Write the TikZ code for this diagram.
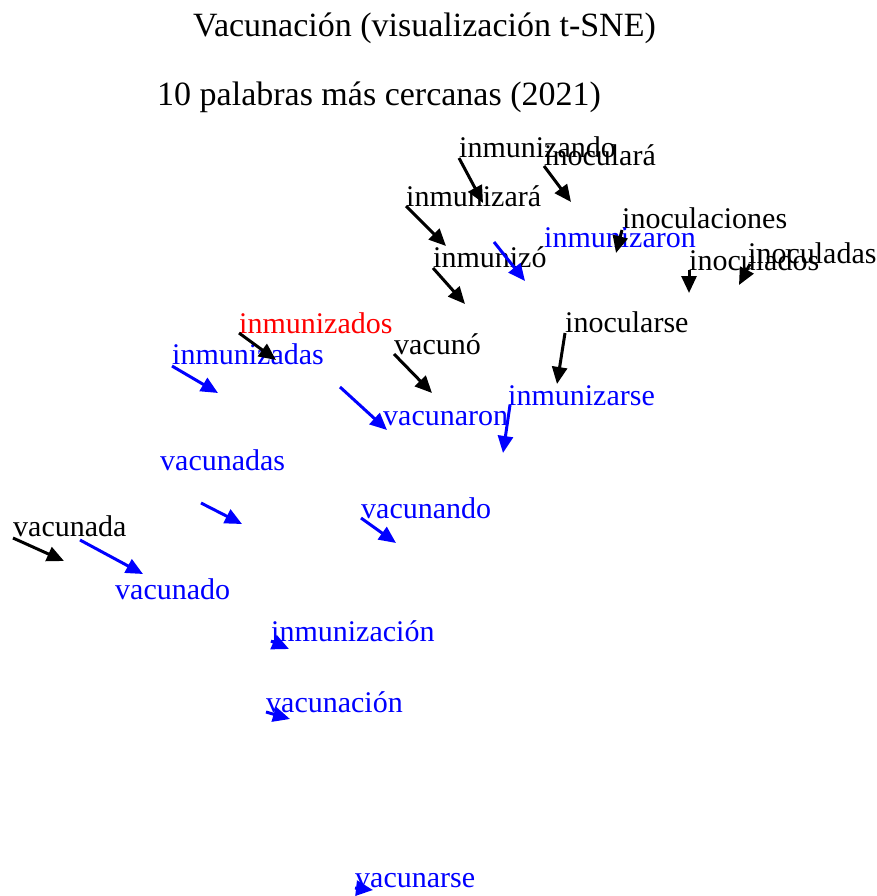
\documentclass[tikz,border=0pt]{standalone}
\usepackage{fontspec}
\setmainfont{Liberation Serif}
\usetikzlibrary{arrows.meta}
\definecolor{wblue}{RGB}{0,0,255}
\definecolor{wred}{RGB}{255,0,0}
\tikzset{
  word/.style={anchor=base west, inner sep=0pt, font=\fontsize{30}{33}\selectfont},
  titletext/.style={anchor=base west, inner sep=0pt, font=\fontsize{34}{38}\selectfont},
  moveline/.style={line width=3pt, -{Triangle[length=17pt,width=15pt]}},
}
\begin{document}
\begin{tikzpicture}[x=1pt,y=-1pt]
\useasboundingbox (0,0) rectangle (877,896);

% titles
\node[titletext] (t1) at (193,37) {Vacunación (visualización t-SNE)};
\node[titletext] (t2) at (157,106) {10 palabras más cercanas (2021)};

% word labels
\node[word] (w1)  at (459,158) {inmunizando};
\node[word] (w2)  at (544,166) {inoculará};
\node[word] (w3)  at (406,206) {inmunizará};
\node[word] (w4)  at (622,228) {inoculaciones};
\node[word, wblue] (w5) at (544,247) {inmunizaron};
\node[word] (w6)  at (433,267) {inmunizó};
\node[word] (w7)  at (689,270) {inoculados};
\node[word] (w8)  at (748,263) {inoculadas};
\node[word, wred] (w9) at (239,333) {inmunizados};
\node[word] (w10) at (565,332) {inocularse};
\node[word] (w11) at (394,354) {vacunó};
\node[word, wblue] (w12) at (172,364) {inmunizadas};
\node[word, wblue] (w13) at (383,425) {vacunaron};
\node[word, wblue] (w14) at (508,405) {inmunizarse};
\node[word, wblue] (w15) at (160,470) {vacunadas};
\node[word, wblue] (w16) at (361,518) {vacunando};
\node[word] (w17) at (13,536) {vacunada};
\node[word, wblue] (w18) at (115,599) {vacunado};
\node[word, wblue] (w19) at (271,641) {inmunización};
\node[word, wblue] (w20) at (266,712) {vacunación};
\node[word, wblue] (w21) at (355,887) {vacunarse};

% arrow end points
\coordinate (a1)  at (459,158); \coordinate (b1)  at (483,203);
\coordinate (a2)  at (544,166); \coordinate (b2)  at (571,202);
\coordinate (a3)  at (406,206); \coordinate (b3)  at (446,246);
\coordinate (a4)  at (622,230); \coordinate (b4)  at (616,253);
\coordinate (a5)  at (494,242); \coordinate (b5)  at (525,281);
\coordinate (a6)  at (433,268); \coordinate (b6)  at (465,304);
\coordinate (a7)  at (689,270); \coordinate (b7)  at (689,293);
\coordinate (a8)  at (750,264); \coordinate (b8)  at (739,285);
\coordinate (a9)  at (239,333); \coordinate (b9)  at (276,360);
\coordinate (a10) at (565,333); \coordinate (b10) at (557,384);
\coordinate (a11) at (394,354); \coordinate (b11) at (432,393);
\coordinate (a12) at (172,366); \coordinate (b12) at (218,393);
\coordinate (a13) at (340,387); \coordinate (b13) at (387,430);
\coordinate (a14) at (510,405); \coordinate (b14) at (503,453);
\coordinate (a15) at (201,503); \coordinate (b15) at (242,524);
\coordinate (a16) at (361,518); \coordinate (b16) at (396,543);
\coordinate (a17) at (13,538);  \coordinate (b17) at (64,561);
\coordinate (a18) at (80,540);  \coordinate (b18) at (143,574);
\coordinate (a19) at (271,641); \coordinate (b19) at (289,649);
\coordinate (a20) at (266,712); \coordinate (b20) at (290,719);
\coordinate (a21) at (355,888); \coordinate (b21) at (373,890);

% black moves
\foreach \i in {1,2,3,4,6,7,8,9,10,11,17}
  \draw[moveline, black] (a\i) -- (b\i);
% blue moves
\foreach \i in {5,12,13,14,15,16,18,19,20,21}
  \draw[moveline, wblue] (a\i) -- (b\i);
\end{tikzpicture}
\end{document}
